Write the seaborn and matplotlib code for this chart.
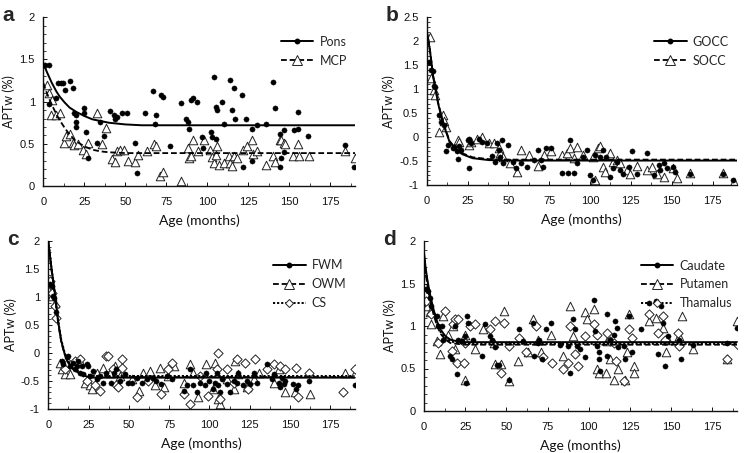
import matplotlib
matplotlib.use("Agg")
import matplotlib.pyplot as plt
from matplotlib.lines import Line2D
from matplotlib.ticker import MultipleLocator
import seaborn as sns
import pandas as pd

# ---------------- data ----------------
# Panel a
a_pons_age = [1, 3.5, 3.7, 9, 11, 12, 13, 16, 18, 8, 19, 20, 20, 20, 25, 25, 26, 27, 32.5, 34.5, 37,
              40.6, 43, 45, 44, 48, 51, 56, 57, 62, 67, 68, 69, 71.5, 73, 77, 84, 87, 88, 89, 90, 91.5,
              93.5, 97, 97.5, 102, 103, 105, 104, 105, 106, 109, 110, 114, 115, 116, 117, 121, 123.5,
              122, 127, 127, 130, 136, 140, 141, 144, 144, 145, 147, 147, 153, 155, 155, 161.5, 184, 189.6]
a_pons_val = [1.43, 1.43, 0.97, 1.22, 1.22, 1.22, 1.14, 1.25, 1.16, 1.04, 0.86, 0.84, 0.70, 0.76, 0.92,
              0.86, 0.64, 0.33, 0.51, 0.76, 0.59, 0.89, 0.84, 0.82, 0.80, 0.87, 0.86, 0.51, 0.16, 0.86,
              1.13, 0.74, 0.84, 1.08, 1.06, 0.47, 0.98, 0.79, 0.76, 0.67, 1.02, 1.04, 1.00, 0.58, 0.45,
              0.64, 0.58, 0.56, 1.29, 0.94, 0.90, 1.00, 0.74, 1.26, 0.90, 1.16, 0.79, 1.08, 0.79, 0.22,
              0.68, 0.30, 0.72, 0.74, 1.23, 0.92, 0.62, 0.23, 0.33, 0.66, 0.40, 0.66, 0.68, 0.88, 0.59,
              0.49, 0.23]
a_mcp_age = [2, 3.5, 5, 4.5, 8, 10, 12.6, 14, 16, 18, 19, 21, 24, 26, 27, 32.5, 35.5, 38, 42, 44, 45,
             47, 49, 51.4, 56, 58, 63, 67.5, 69, 71, 73, 84, 88.4, 89, 90, 91, 94, 98, 101.6, 102.6, 104,
             105, 106, 107, 110, 113, 114, 115, 116, 118, 122, 124, 127, 127.6, 130, 136, 140, 141, 144,
             145, 146.5, 147.5, 152, 155, 156, 162, 184, 190]
a_mcp_val = [1.20, 1.10, 1.02, 0.84, 0.84, 0.87, 0.51, 0.59, 0.62, 0.51, 0.49, 0.50, 0.43, 0.38, 0.51,
             0.87, 0.50, 0.69, 0.32, 0.28, 0.42, 0.43, 0.43, 0.30, 0.28, 0.37, 0.42, 0.50, 0.47, 0.12,
             0.17, 0.06, 0.45, 0.33, 0.35, 0.55, 0.41, 0.55, 0.43, 0.34, 0.27, 0.37, 0.47, 0.25, 0.27,
             0.35, 0.27, 0.24, 0.35, 0.33, 0.43, 0.47, 0.55, 0.38, 0.41, 0.25, 0.35, 0.29, 0.55, 0.54,
             0.51, 0.50, 0.35, 0.50, 0.35, 0.35, 0.41, 0.33]
a_pons_fit_age = [0, 2, 5, 8, 10, 13, 16, 20, 25, 30, 35, 40, 50, 60, 80, 190]
a_pons_fit_val = [1.46, 1.36, 1.23, 1.12, 1.06, 0.99, 0.93, 0.88, 0.83, 0.79, 0.77, 0.75, 0.73, 0.72, 0.72, 0.72]
a_mcp_fit_age = [0, 2, 5, 8, 10, 13, 16, 20, 25, 30, 35, 40, 50, 60, 190]
a_mcp_fit_val = [1.22, 1.11, 0.97, 0.85, 0.78, 0.69, 0.61, 0.53, 0.47, 0.43, 0.41, 0.40, 0.39, 0.39, 0.39]

# Panel b
b_gocc_age = [1.6, 2.6, 3.7, 4.7, 5.3, 7.7, 8.7, 10.8, 11.8, 13, 16, 17, 18.5, 19.3, 20, 21, 25, 26, 26,
              27, 32, 34, 37, 40, 42, 43, 44, 45, 46, 47, 50, 53, 54.5, 57.5, 61.6, 65.6, 68, 70, 71,
              73, 76, 83, 86.6, 88, 90, 92, 96, 98, 100, 102, 103, 106, 108, 110, 112, 114, 116.5,
              118.5, 120.5, 124, 126, 128.7, 135, 139, 142, 143, 145, 147, 151, 152, 161, 181.5, 187.6]
b_gocc_val = [1.57, 1.40, 1.37, 1.07, 1.04, 0.46, 0.32, 0.25, -0.30, -0.17, -0.23, -0.20, -0.29, -0.46,
              -0.18, -0.27, -0.06, -0.03, -0.65, -0.13, -0.03, -0.10, -0.13, -0.40, -0.51, -0.13, -0.27,
              -0.41, -0.06, -0.55, -0.17, -0.51, -0.65, -0.55, -0.62, -0.48, -0.27, -0.48, -0.62, -0.23,
              -0.23, -0.74, -0.74, -0.06, -0.74, -0.55, -0.41, -0.27, -0.79, -0.90, -0.37, -0.41, -0.27,
              -0.41, -0.83, -0.65, -0.51, -0.69, -0.76, -0.62, -0.30, -0.76, -0.33, -0.79, -0.58, -0.69,
              -0.55, -0.65, -0.62, -0.72, -0.76, -0.76, -0.90]
b_socc_age = [2, 2.6, 4.3, 5, 7.7, 9.8, 10.8, 12, 19, 20, 26, 27, 31, 34, 38, 41, 44, 45, 47, 51, 55,
              57.5, 62.6, 68, 72, 76, 83, 86, 88, 90, 92, 96, 102, 103, 105, 106, 108, 109, 112, 114,
              116.5, 118.5, 122.5, 124.5, 128.7, 135, 138, 141, 145, 151, 153, 161, 181.5, 188]
b_socc_val = [2.08, 1.23, 0.98, 0.88, 0.11, 0.46, 0.34, 0.22, -0.06, -0.10, -0.17, -0.10, -0.03, 0.00,
              -0.12, -0.12, -0.23, -0.34, -0.41, -0.55, -0.72, -0.26, -0.37, -0.60, -0.37, -0.30, -0.37,
              -0.34, -0.23, -0.44, -0.20, -0.37, -0.41, -0.90, -0.23, -0.18, -0.62, -0.72, -0.34, -0.51,
              -0.48, -0.55, -0.69, -0.76, -0.60, -0.69, -0.62, -0.76, -0.83, -0.65, -0.86, -0.74, -0.74,
              -0.93]
b_gocc_fit_age = [0, 1, 2, 4, 7, 10, 14, 18, 22, 28, 38, 50, 190]
b_gocc_fit_val = [2.20, 2.02, 1.80, 1.25, 0.70, 0.29, -0.10, -0.27, -0.36, -0.44, -0.48, -0.49, -0.49]
b_socc_fit_age = [0, 1, 2, 4, 7, 10, 14, 18, 22, 28, 38, 50, 190]
b_socc_fit_val = [2.22, 2.04, 1.82, 1.27, 0.72, 0.31, -0.08, -0.25, -0.34, -0.42, -0.46, -0.47, -0.47]

# Panel c
c_fwm_age = [1, 2, 3, 3.7, 4.8, 8.3, 9.3, 11.4, 12.4, 13.5, 15.5, 16.6, 17.6, 18.6, 19.7, 20.7, 21.7,
             23.8, 24.8, 25.9, 28, 30, 32, 34, 36, 39, 41, 42, 44.5, 47.6, 49.7, 52, 55, 58, 61, 65,
             67, 70, 73.5, 76.5, 84, 86, 88, 90, 92, 94, 97, 98, 100, 102.5, 103.5, 104.5, 105.6,
             106.6, 107.7, 110.8, 112.8, 115, 117, 118, 121, 123, 125, 127.5, 129.5, 135.6, 138.7,
             140, 143, 144, 145, 146, 147, 152, 154, 155, 161.5, 190]
c_fwm_val = [1.23, 1.20, 1.02, 0.99, 0.73, -0.14, -0.20, -0.08, -0.05, -0.23, -0.17, -0.29, -0.23,
             -0.14, -0.35, -0.23, -0.38, -0.20, -0.23, -0.41, -0.32, -0.47, -0.41, -0.53, -0.35, -0.53,
             -0.35, -0.29, -0.50, -0.38, -0.53, -0.53, -0.44, -0.53, -0.47, -0.44, -0.50, -0.56, -0.41,
             -0.47, -0.67, -0.58, -0.29, -0.58, -0.70, -0.53, -0.58, -0.35, -0.50, -0.64, -0.53, -0.35,
             -0.58, -0.70, -0.47, -0.56, -0.70, -0.50, -0.53, -0.35, -0.58, -0.50, -0.56, -0.35, -0.53,
             -0.20, -0.47, -0.38, -0.53, -0.61, -0.44, -0.56, -0.50, -0.56, -0.64, -0.58, -0.50, -0.58]
c_owm_age = [0.6, 2, 4, 7, 8.3, 10.4, 13.5, 15.5, 19.7, 22.8, 25.9, 27, 30, 34, 38.3, 41.4, 44.5, 52,
             56, 59, 63, 66, 69.5, 71.5, 74.5, 78, 84, 88, 90, 93, 98, 102.5, 103.5, 105.6, 106.6,
             110.8, 115, 116, 118, 123, 127.5, 130.5, 140, 143, 147, 153, 162.5, 184, 190]
c_owm_val = [1.11, 1.02, 0.90, -0.17, -0.29, -0.38, -0.38, -0.20, -0.14, -0.53, -0.58, -0.64, -0.35,
             -0.26, -0.35, -0.23, -0.41, -0.47, -0.67, -0.35, -0.32, -0.58, -0.26, -0.61, -0.41, -0.23,
             -0.53, -0.20, -0.35, -0.79, -0.20, -0.64, -0.17, -0.82, -0.91, -0.47, -0.64, -0.14, -0.38,
             -0.61, -0.47, -0.35, -0.53, -0.29, -0.70, -0.70, -0.73, -0.35, -0.35]
c_cs_age = [1, 2, 4, 5, 10.4, 12.4, 16.6, 19.7, 23.8, 29, 32, 36, 37, 40, 42, 43.5, 45.5, 45.5, 55, 62,
            70, 74.5, 76.5, 84, 88, 94, 99, 104.5, 105.6, 106.6, 110.8, 115, 117, 122, 124, 128.5,
            135.6, 140, 144, 147, 154, 155, 161.5, 183, 190]
c_cs_val = [1.29, 1.08, 0.84, 0.63, -0.29, -0.17, -0.14, -0.11, -0.50, -0.58, -0.67, -0.05, -0.05,
            -0.29, -0.58, -0.61, -0.11, -0.26, -0.79, -0.50, -0.73, -0.29, -0.17, -0.73, -0.91, -0.41,
            -0.76, -0.29, 0.00, -0.82, -0.29, -0.53, -0.11, -0.17, -0.64, -0.11, -0.29, -0.20, -0.23,
            -0.29, -0.26, -0.79, -0.35, -0.70, -0.29]
c_fwm_fit_age = [0, 1, 2, 4, 6, 8, 10, 12, 15, 20, 25, 30, 190]
c_fwm_fit_val = [2.00, 1.75, 1.50, 1.08, 0.58, 0.22, 0.00, -0.15, -0.27, -0.38, -0.43, -0.44, -0.44]
c_owm_fit_age = [0, 1, 2, 4, 6, 8, 10, 12, 15, 20, 25, 30, 190]
c_owm_fit_val = [1.98, 1.73, 1.48, 1.06, 0.56, 0.20, -0.01, -0.16, -0.28, -0.38, -0.42, -0.43, -0.43]
c_cs_fit_age = [0, 1, 2, 4, 6, 8, 10, 12, 15, 20, 25, 30, 190]
c_cs_fit_val = [2.00, 1.76, 1.52, 1.10, 0.60, 0.24, 0.02, -0.13, -0.25, -0.35, -0.39, -0.41, -0.41]

# Panel d
d_caud_age = [1.4, 2.5, 3.5, 4.5, 7.6, 8.6, 10.7, 11.7, 15.8, 16.8, 18.9, 19.9, 20.9, 23, 25, 25.4, 26,
              26.6, 30, 35, 37, 40, 41.4, 43.4, 44.5, 45.5, 51.6, 57.8, 59.8, 66, 67, 69, 70, 71.7, 74,
              77, 82.4, 87.5, 88.5, 90.6, 91.6, 92.6, 94.7, 97.7, 103, 104, 105, 106, 106, 107, 111,
              111, 113, 115.6, 116.2, 117, 118, 121.3, 122.3, 124.4, 126.4, 131.6, 136.7, 140.8, 141.8,
              143.8, 144.9, 146, 148, 155, 156, 163.3, 183.8, 190]
d_caud_val = [1.43, 1.41, 1.33, 1.24, 1.12, 1.00, 1.00, 0.84, 0.65, 0.61, 1.00, 0.43, 0.84, 0.82, 0.88,
              0.33, 1.12, 1.04, 0.84, 0.65, 1.02, 0.88, 0.84, 0.75, 0.54, 0.54, 0.37, 0.96, 0.82, 1.04,
              0.65, 0.80, 0.84, 0.61, 0.96, 1.04, 0.78, 0.76, 0.45, 1.08, 0.96, 0.76, 0.73, 0.63, 1.31,
              0.94, 0.76, 0.69, 0.61, 0.47, 1.14, 0.65, 0.84, 0.90, 1.06, 0.98, 0.75, 0.76, 0.61, 1.12,
              0.69, 0.96, 1.27, 1.29, 0.67, 1.24, 1.04, 0.53, 0.88, 0.84, 0.61, 0.78, 0.80, 0.98]
d_put_age = [0.8, 2, 3.5, 4.5, 7.6, 9.6, 11.7, 14.8, 17.8, 18.9, 25, 25, 31, 36, 42.4, 43.4, 46.5,
             48.6, 51.6, 56.8, 63, 66, 69, 71, 77, 84.4, 88.5, 90.6, 97.7, 98.8, 103, 105, 106, 110.5,
             111, 113, 115.6, 117.5, 122.3, 123.4, 124.4, 127.5, 127.5, 136.7, 140.8, 144.9, 147, 148,
             155, 156.4, 163, 183.8, 190]
d_put_val = [1.35, 1.24, 1.16, 1.02, 0.82, 0.67, 1.12, 0.90, 1.00, 0.73, 0.37, 0.90, 0.73, 0.96, 0.80,
             0.55, 0.55, 1.18, 0.35, 0.59, 0.69, 1.08, 0.84, 0.69, 0.90, 0.65, 1.24, 0.88, 1.16, 1.08,
             1.20, 0.49, 0.45, 0.45, 0.82, 0.61, 0.37, 0.49, 0.37, 0.69, 1.14, 0.53, 0.45, 1.06, 1.10,
             0.98, 0.69, 0.84, 0.88, 1.12, 0.73, 0.61, 1.06]
d_tha_age = [0.4, 1.4, 4.5, 8.6, 12.7, 16.8, 17.8, 18.9, 19.9, 20.9, 24, 25, 28, 31, 40, 43.4, 46.5,
             48.6, 51.6, 57.8, 62, 68, 72, 78, 84.4, 87.5, 88.5, 91.6, 93.6, 97.7, 103, 105, 111, 113,
             115.6, 116.6, 121.3, 124.4, 126.4, 136.7, 141.8, 144.9, 146, 154, 155, 183.8, 190.6]
d_tha_val = [1.37, 1.29, 1.14, 0.80, 1.18, 0.71, 1.02, 1.08, 0.57, 1.08, 0.57, 0.80, 1.00, 1.02, 0.96,
             1.06, 0.45, 1.04, 0.76, 0.86, 0.69, 1.00, 0.63, 0.57, 0.49, 0.57, 1.00, 0.67, 0.53, 0.88,
             1.02, 0.90, 0.92, 0.82, 0.80, 0.59, 0.35, 0.96, 0.86, 1.14, 0.92, 1.12, 0.84, 0.92, 0.76,
             0.61, 0.78]
d_caud_fit_age = [0, 1, 2, 3, 4, 6, 8, 10, 13, 16, 20, 25, 190]
d_caud_fit_val = [1.86, 1.68, 1.55, 1.44, 1.34, 1.18, 1.05, 0.96, 0.88, 0.84, 0.82, 0.81, 0.81]
d_put_fit_age = [0, 1, 2, 3, 4, 6, 8, 10, 13, 16, 20, 25, 190]
d_put_fit_val = [1.80, 1.62, 1.49, 1.38, 1.28, 1.12, 1.00, 0.91, 0.84, 0.80, 0.79, 0.78, 0.78]
d_tha_fit_age = [0, 1, 2, 3, 4, 6, 8, 10, 13, 16, 20, 25, 190]
d_tha_fit_val = [1.83, 1.65, 1.52, 1.41, 1.31, 1.15, 1.02, 0.93, 0.86, 0.82, 0.80, 0.79, 0.79]

x_ticks = [0, 25, 50, 75, 100, 125, 150, 175]

# ---------------- styling ----------------
sns.set_theme(style="white")
plt.rcParams['font.family'] = ['Liberation Sans', 'DejaVu Sans']

W, H = 750, 453
fig = plt.figure(figsize=(7.5, 4.53), dpi=100)

def axes_px(left, top, right, bottom):
    return fig.add_axes([left / W, 1 - bottom / H, (right - left) / W, (bottom - top) / H])

ax_a = axes_px(43.3, 17.3, 355, 186)
ax_b = axes_px(426.7, 17.3, 737, 185)
ax_c = axes_px(48.3, 241, 354.5, 409)
ax_d = axes_px(424, 241, 737, 411)

STYLES = {
    'circle': dict(marker='o', s=14, color='black', edgecolor='black', linewidth=0.3),
    'tri': dict(marker='^', s=38, facecolor='white', edgecolor='#222222', linewidth=0.7),
    'dia': dict(marker='D', s=22, facecolor='white', edgecolor='#222222', linewidth=0.7),
}
LINES = {
    'circle': dict(linestyle='-', linewidth=1.4),
    'tri': dict(linestyle=(0, (3.2, 1.6)), linewidth=1.3),
    'dia': dict(linestyle=(0, (1.1, 1.0)), linewidth=1.4),
}
LEG_MARK = {
    'circle': dict(marker='o', markersize=3.2, markerfacecolor='black', markeredgecolor='black'),
    'tri': dict(marker='^', markersize=6.5, markerfacecolor='white', markeredgecolor='#222222', markeredgewidth=0.7),
    'dia': dict(marker='D', markersize=4.5, markerfacecolor='white', markeredgecolor='#222222', markeredgewidth=0.7),
}

def draw_panel(ax, series, ylim, ymajor, letter, legend_anchor):
    handles = []
    order = sorted(series, key=lambda s: 0 if s[4] != 'circle' else 1)
    for name, ages, vals, fit, kind in order:
        df = pd.DataFrame({'age': ages, 'aptw': vals})
        sns.scatterplot(data=df, x='age', y='aptw', ax=ax, zorder=3 if kind == 'circle' else 2,
                        legend=False, **STYLES[kind])
    for name, ages, vals, fit, kind in series:
        fdf = pd.DataFrame({'age': fit[0], 'aptw': fit[1]})
        sns.lineplot(data=fdf, x='age', y='aptw', ax=ax, color='black', estimator=None, sort=True,
                     legend=False, zorder=4, **LINES[kind])
        handles.append(Line2D([], [], color='black', **LINES[kind], **LEG_MARK[kind], label=name))
    ax.set_xlim(0, 190)
    ax.set_ylim(*ylim)
    ax.set_xticks(x_ticks)
    ax.xaxis.set_minor_locator(MultipleLocator(12.5))
    ax.yaxis.set_major_locator(MultipleLocator(ymajor))
    ax.yaxis.set_minor_locator(MultipleLocator(0.1))
    ax.set_yticks([v for v in ax.get_yticks() if ylim[0] - 1e-9 <= v <= ylim[1] + 1e-9])
    ax.set_yticklabels([('%g' % v) for v in ax.get_yticks()])
    for sp in ['top', 'right']:
        ax.spines[sp].set_visible(False)
    for sp in ['left', 'bottom']:
        ax.spines[sp].set_color('#111111')
        ax.spines[sp].set_linewidth(1.0)
    ax.tick_params(axis='x', which='major', direction='in', length=3, width=0.7,
                   labelsize=8, colors='#111111', pad=8, bottom=True)
    ax.tick_params(axis='y', which='major', direction='in', length=3, width=0.7,
                   labelsize=8, colors='#111111', pad=6, left=True)
    ax.tick_params(axis='both', which='minor', direction='in', length=2, width=0.6, left=True, bottom=True)
    ax.set_xlabel('Age (months)', fontsize=10, family=['Lato', 'DejaVu Sans'], color='#111111', labelpad=5)
    ax.set_ylabel('APTw (%)', fontsize=9, family=['Lato', 'DejaVu Sans'], color='#111111', labelpad=3)
    ax.grid(False)
    ax.legend(handles=handles, loc='upper right', bbox_to_anchor=legend_anchor,
              frameon=False, handlelength=2.6, handletextpad=0.5,
              labelspacing=0.55, numpoints=1, borderaxespad=0.0,
              prop={'family': ['Lato', 'DejaVu Sans'], 'size': 9})
    bb = ax.get_position()
    fig.text(bb.x0 - 0.055, bb.y1 + 0.004, letter, fontsize=15, fontweight='bold',
             ha='left', va='center', family=['Liberation Sans', 'DejaVu Sans'])

draw_panel(ax_a, [('Pons', a_pons_age, a_pons_val, (a_pons_fit_age, a_pons_fit_val), 'circle'),
                  ('MCP', a_mcp_age, a_mcp_val, (a_mcp_fit_age, a_mcp_fit_val), 'tri')],
           (0, 2), 0.5, 'a', (0.99, 0.92))
draw_panel(ax_b, [('GOCC', b_gocc_age, b_gocc_val, (b_gocc_fit_age, b_gocc_fit_val), 'circle'),
                  ('SOCC', b_socc_age, b_socc_val, (b_socc_fit_age, b_socc_fit_val), 'tri')],
           (-1, 2.5), 0.5, 'b', (0.99, 0.92))
draw_panel(ax_c, [('FWM', c_fwm_age, c_fwm_val, (c_fwm_fit_age, c_fwm_fit_val), 'circle'),
                  ('OWM', c_owm_age, c_owm_val, (c_owm_fit_age, c_owm_fit_val), 'tri'),
                  ('CS', c_cs_age, c_cs_val, (c_cs_fit_age, c_cs_fit_val), 'dia')],
           (-1, 2), 0.5, 'c', (0.99, 0.92))
draw_panel(ax_d, [('Caudate', d_caud_age, d_caud_val, (d_caud_fit_age, d_caud_fit_val), 'circle'),
                  ('Putamen', d_put_age, d_put_val, (d_put_fit_age, d_put_fit_val), 'tri'),
                  ('Thamalus', d_tha_age, d_tha_val, (d_tha_fit_age, d_tha_fit_val), 'dia')],
           (0, 2), 0.5, 'd', (1.0, 0.92))

fig.savefig('out.png', dpi=100, facecolor='white')
